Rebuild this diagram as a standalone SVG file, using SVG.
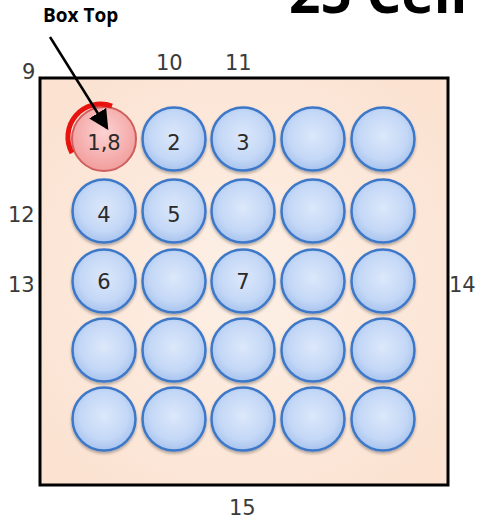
<svg xmlns="http://www.w3.org/2000/svg" width="483" height="522" viewBox="0 0 483 522">
<defs>
<style>
.lbl{font-family:"DejaVu Sans",sans-serif;font-size:21px;fill:#3a3a3a}
.num{font-family:"DejaVu Sans",sans-serif;font-size:21px;fill:#2a2a2a;text-anchor:middle}
.cell{fill:url(#blueG);stroke:#3d78c8;stroke-width:2.5;filter:url(#sh)}
.bold{font-family:"Open Sans","DejaVu Sans",sans-serif;font-weight:bold;fill:#000}
</style>
<radialGradient id="blueG" cx="50%" cy="45%" r="55%">
<stop offset="0" stop-color="#dce8fb"/>
<stop offset="0.7" stop-color="#c3d7f6"/>
<stop offset="1" stop-color="#a7c3ee"/>
</radialGradient>
<radialGradient id="redG" cx="50%" cy="40%" r="60%">
<stop offset="0" stop-color="#fcd3d2"/>
<stop offset="1" stop-color="#f19d9c"/>
</radialGradient>
<radialGradient id="boxG" cx="50%" cy="50%" r="65%">
<stop offset="0" stop-color="#fdf0e6"/>
<stop offset="1" stop-color="#fbe2d1"/>
</radialGradient>
<filter id="sh" x="-20%" y="-20%" width="140%" height="150%">
<feGaussianBlur in="SourceAlpha" stdDeviation="1.5"/>
<feOffset dx="0" dy="2" result="b"/>
<feComponentTransfer><feFuncA type="linear" slope="0.3"/></feComponentTransfer>
<feMerge><feMergeNode/><feMergeNode in="SourceGraphic"/></feMerge>
</filter>
<marker id="ah" markerWidth="8" markerHeight="8" refX="7" refY="4" orient="auto" markerUnits="strokeWidth">
<path d="M0,0 L8,4 L0,8 Z" fill="#000"/>
</marker>
</defs>
<rect width="483" height="522" fill="#fff"/>
<text class="bold" x="289" y="13" font-size="55">25 Cell</text>
<text class="bold" x="43" y="22" font-size="19">Box Top</text>
<g id="box">
<rect x="40" y="78" width="408" height="407" fill="url(#boxG)" stroke="#000" stroke-width="3"/>
</g>
<g id="labels">
<text class="lbl" x="22" y="79">9</text>
<text class="lbl" x="156" y="70">10</text>
<text class="lbl" x="225" y="70">11</text>
<text class="lbl" x="8" y="222">12</text>
<text class="lbl" x="8" y="292">13</text>
<text class="lbl" x="449" y="292">14</text>
<text class="lbl" x="229" y="515">15</text>
</g>
<g id="cell1"><circle cx="104" cy="139" r="32" fill="url(#redG)" stroke="#cf5e5e" stroke-width="2"/><path d="M72,153 A33,33 0 0 1 112,106" fill="none" stroke="#e8120e" stroke-width="5"/><text class="num" x="104" y="150">1,8</text></g>
<g id="cell2"><circle class="cell" cx="174" cy="139" r="31.5"/><text class="num" x="174" y="150">2</text></g>
<g id="cell3"><circle class="cell" cx="243" cy="139" r="31.5"/><text class="num" x="243" y="150">3</text></g>
<g id="cell4"><circle class="cell" cx="313" cy="139" r="31.5"/></g>
<g id="cell5"><circle class="cell" cx="383" cy="139" r="31.5"/></g>
<g id="cell6"><circle class="cell" cx="104" cy="211" r="31.5"/><text class="num" x="104" y="222">4</text></g>
<g id="cell7"><circle class="cell" cx="174" cy="211" r="31.5"/><text class="num" x="174" y="222">5</text></g>
<g id="cell8"><circle class="cell" cx="243" cy="211" r="31.5"/></g>
<g id="cell9"><circle class="cell" cx="313" cy="211" r="31.5"/></g>
<g id="cell10"><circle class="cell" cx="383" cy="211" r="31.5"/></g>
<g id="cell11"><circle class="cell" cx="104" cy="281" r="31.5"/><text class="num" x="104" y="289">6</text></g>
<g id="cell12"><circle class="cell" cx="174" cy="281" r="31.5"/></g>
<g id="cell13"><circle class="cell" cx="243" cy="281" r="31.5"/><text class="num" x="243" y="289">7</text></g>
<g id="cell14"><circle class="cell" cx="313" cy="281" r="31.5"/></g>
<g id="cell15"><circle class="cell" cx="383" cy="281" r="31.5"/></g>
<g id="cell16"><circle class="cell" cx="104" cy="350" r="31.5"/></g>
<g id="cell17"><circle class="cell" cx="174" cy="350" r="31.5"/></g>
<g id="cell18"><circle class="cell" cx="243" cy="350" r="31.5"/></g>
<g id="cell19"><circle class="cell" cx="313" cy="350" r="31.5"/></g>
<g id="cell20"><circle class="cell" cx="383" cy="350" r="31.5"/></g>
<g id="cell21"><circle class="cell" cx="104" cy="419" r="31.5"/></g>
<g id="cell22"><circle class="cell" cx="174" cy="419" r="31.5"/></g>
<g id="cell23"><circle class="cell" cx="243" cy="419" r="31.5"/></g>
<g id="cell24"><circle class="cell" cx="313" cy="419" r="31.5"/></g>
<g id="cell25"><circle class="cell" cx="383" cy="419" r="31.5"/></g>
<g id="connectors">
<line x1="50" y1="37" x2="107" y2="128" stroke="#000" stroke-width="2.5" marker-end="url(#ah)"/>
</g>
</svg>
